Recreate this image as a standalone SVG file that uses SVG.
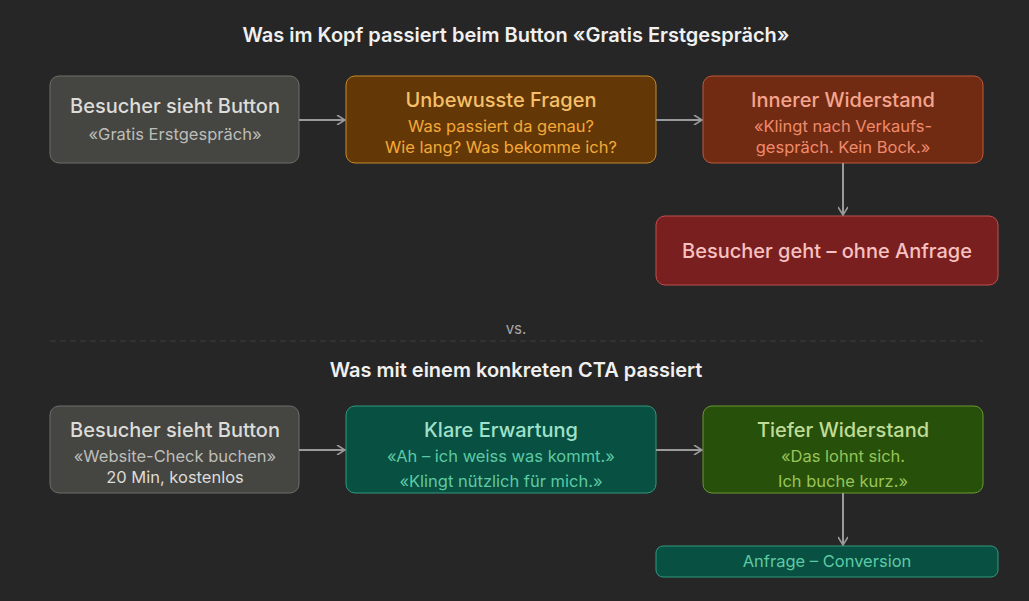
<svg xmlns="http://www.w3.org/2000/svg" width="1029" height="601" viewBox="0 0 1029 601">
<style>
text{font-family:Inter,"Liberation Sans",sans-serif;text-anchor:middle}
.t{font-size:20px;font-weight:600;fill:#f0f0f0}
.h{font-size:20px;font-weight:500}
.s{font-size:16.5px}
.c{stroke:#9a9a9a;stroke-width:2;fill:none;marker-end:url(#a)}
</style>
<defs><marker id="a" viewBox="0 0 10 10" refX="9" refY="5" markerWidth="10" markerHeight="10" markerUnits="userSpaceOnUse" orient="auto"><path d="M1 0L9 5L1 10" fill="none" stroke="#9a9a9a" stroke-width="1.6"/></marker></defs>
<rect width="1029" height="601" fill="#262626"/>
<text class="t" x="516" y="42">Was im Kopf passiert beim Button «Gratis Erstgespräch»</text>
<g id="n1"><rect x="50" y="76" width="249" height="87" rx="9" fill="#454542" stroke="#6e6e6a"/><text class="h" x="175" y="113" fill="#dcdcd8">Besucher sieht Button</text><text class="s" x="175" y="140" fill="#bdbdb8">«Gratis Erstgespräch»</text></g>
<g id="n2"><rect x="346" y="76" width="310" height="87" rx="9" fill="#633806" stroke="#c98a2a"/><text class="h" x="501" y="107" fill="#f6c06a">Unbewusste Fragen</text><text class="s" x="501" y="132" fill="#f3a838">Was passiert da genau?</text><text class="s" x="501" y="153" fill="#f3a838">Wie lang? Was bekomme ich?</text></g>
<g id="n3"><rect x="703" y="76" width="280" height="87" rx="9" fill="#712b13" stroke="#c0583a"/><text class="h" x="843" y="107" fill="#f5a58e">Innerer Widerstand</text><text class="s" x="843" y="132" fill="#f08a6c">«Klingt nach Verkaufs-</text><text class="s" x="843" y="153" fill="#f08a6c">gespräch. Kein Bock.»</text></g>
<g id="n4"><rect x="656" y="216" width="342" height="69" rx="9" fill="#791f1f" stroke="#c0504f"/><text class="h" x="827" y="258" fill="#f7c1c1">Besucher geht – ohne Anfrage</text></g>
<text x="516" y="334" font-size="15" fill="#a8a8a8">vs.</text>
<line x1="50" y1="341" x2="983" y2="341" stroke="#3d3d3d" stroke-dasharray="6 4"/>
<text class="t" x="516" y="377">Was mit einem konkreten CTA passiert</text>
<g id="n5"><rect x="50" y="406" width="249" height="87" rx="9" fill="#454542" stroke="#6e6e6a"/><text class="h" x="175" y="437" fill="#dcdcd8">Besucher sieht Button</text><text class="s" x="175" y="462" fill="#bdbdb8">«Website-Check buchen»</text><text class="s" x="175" y="483" fill="#dcdcd8">20 Min, kostenlos</text></g>
<g id="n6"><rect x="346" y="406" width="310" height="87" rx="9" fill="#085041" stroke="#2f9a7e"/><text class="h" x="501" y="437" fill="#9fe1cb">Klare Erwartung</text><text class="s" x="501" y="462" fill="#5dcaa5">«Ah – ich weiss was kommt.»</text><text class="s" x="501" y="487" fill="#5dcaa5">«Klingt nützlich für mich.»</text></g>
<g id="n7"><rect x="703" y="406" width="280" height="87" rx="9" fill="#27500a" stroke="#6a9a2e"/><text class="h" x="843" y="437" fill="#c0dd97">Tiefer Widerstand</text><text class="s" x="843" y="462" fill="#97c459">«Das lohnt sich.</text><text class="s" x="843" y="487" fill="#97c459">Ich buche kurz.»</text></g>
<g id="n8"><rect x="656" y="546" width="342" height="31" rx="7" fill="#085041" stroke="#2f9a7e"/><text class="s" x="827" y="567" font-size="18" fill="#5dcaa5">Anfrage – Conversion</text></g>
<g id="connectors">
<line class="c" x1="299" y1="120" x2="345" y2="120"/>
<line class="c" x1="656" y1="120" x2="702" y2="120"/>
<line class="c" x1="843" y1="163" x2="843" y2="215"/>
<line class="c" x1="299" y1="450" x2="345" y2="450"/>
<line class="c" x1="656" y1="450" x2="702" y2="450"/>
<line class="c" x1="843" y1="493" x2="843" y2="545"/>
</g>
</svg>
